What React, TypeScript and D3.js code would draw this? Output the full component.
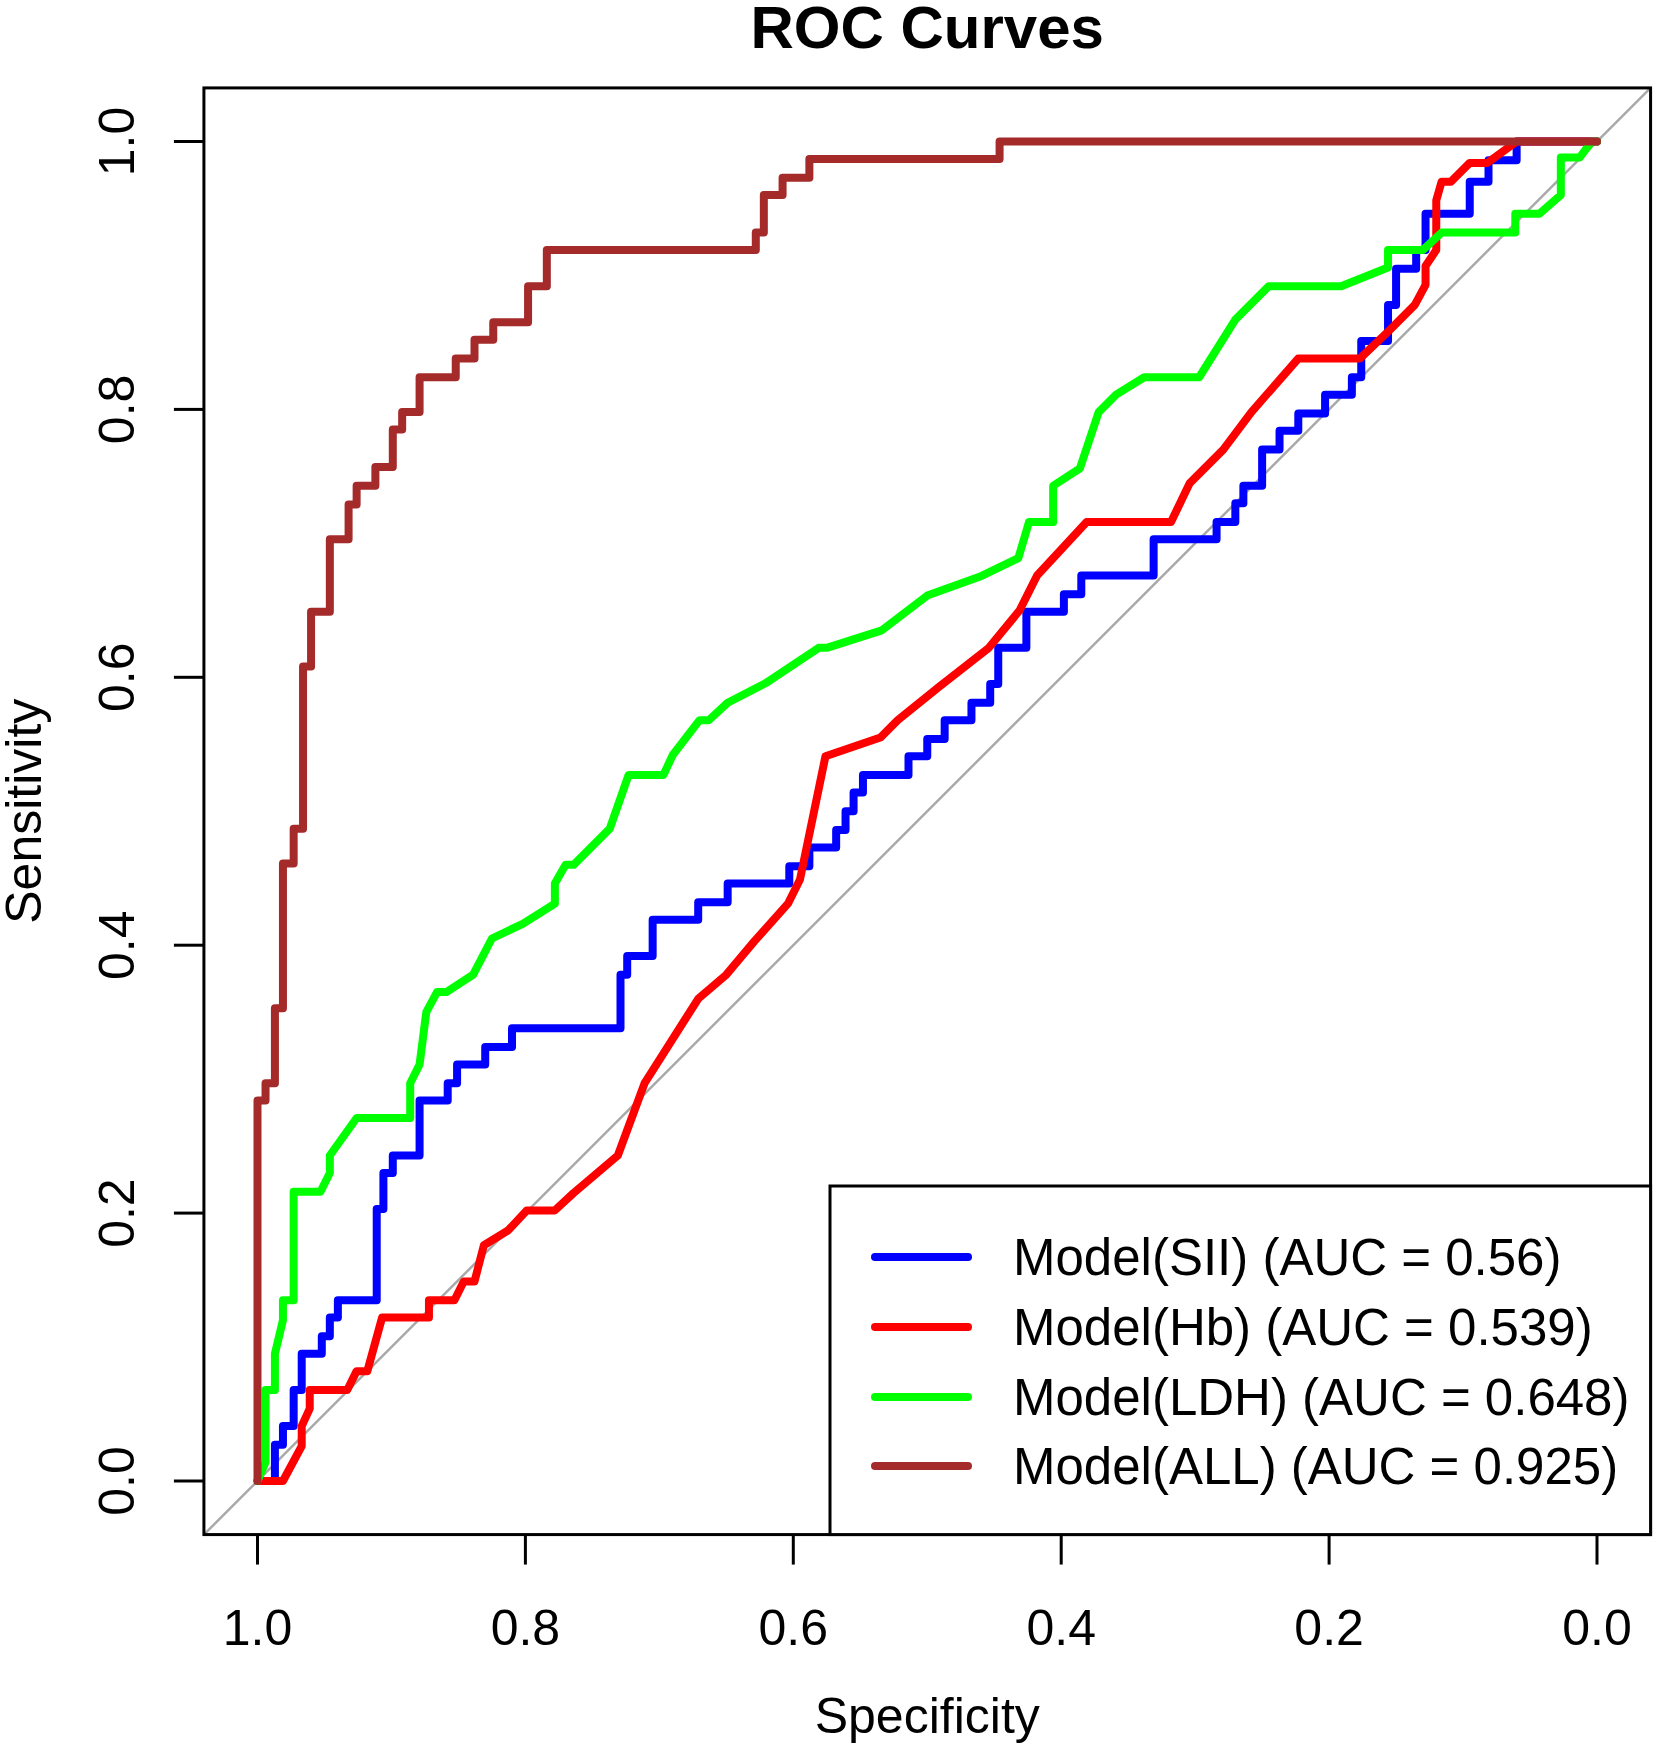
import * as d3 from "d3"

// ROC points, as [specificity, sensitivity]
const siiRoc: [number, number][] = [
  [1, 0], [0.987, 0], [0.987, 0.027], [0.981, 0.027], [0.981, 0.041], [0.973, 0.041],
  [0.973, 0.068], [0.967, 0.068], [0.967, 0.095], [0.952, 0.095], [0.952, 0.108],
  [0.946, 0.108], [0.946, 0.122], [0.94, 0.122], [0.94, 0.135], [0.911, 0.135],
  [0.911, 0.203], [0.906, 0.203], [0.906, 0.23], [0.899, 0.23], [0.899, 0.243],
  [0.879, 0.243], [0.879, 0.284], [0.858, 0.284], [0.858, 0.297], [0.851, 0.297],
  [0.851, 0.311], [0.83, 0.311], [0.83, 0.324], [0.81, 0.324], [0.81, 0.338],
  [0.729, 0.338], [0.729, 0.378], [0.724, 0.378], [0.724, 0.392], [0.705, 0.392],
  [0.705, 0.419], [0.671, 0.419], [0.671, 0.432], [0.649, 0.432], [0.649, 0.446],
  [0.603, 0.446], [0.603, 0.459], [0.588, 0.459], [0.588, 0.473], [0.568, 0.473],
  [0.568, 0.486], [0.561, 0.486], [0.561, 0.5], [0.555, 0.5], [0.555, 0.514],
  [0.548, 0.514], [0.548, 0.527], [0.514, 0.527], [0.514, 0.541], [0.5, 0.541],
  [0.5, 0.554], [0.487, 0.554], [0.487, 0.568], [0.467, 0.568], [0.467, 0.581],
  [0.453, 0.581], [0.453, 0.595], [0.447, 0.595], [0.447, 0.622], [0.426, 0.622],
  [0.426, 0.649], [0.398, 0.649], [0.398, 0.662], [0.385, 0.662], [0.385, 0.676],
  [0.331, 0.676], [0.331, 0.703], [0.284, 0.703], [0.284, 0.716], [0.27, 0.716],
  [0.27, 0.73], [0.264, 0.73], [0.264, 0.743], [0.25, 0.743], [0.25, 0.77],
  [0.237, 0.77], [0.237, 0.784], [0.223, 0.784], [0.223, 0.797], [0.203, 0.797],
  [0.203, 0.811], [0.183, 0.811], [0.183, 0.824], [0.176, 0.824], [0.176, 0.851],
  [0.156, 0.851], [0.156, 0.878], [0.15, 0.878], [0.15, 0.905], [0.135, 0.905],
  [0.135, 0.919], [0.128, 0.919], [0.128, 0.946], [0.095, 0.946], [0.095, 0.97],
  [0.081, 0.97], [0.081, 0.986], [0.06, 0.986], [0.06, 1], [0, 1],
]

const hbRoc: [number, number][] = [
  [1, 0], [0.981, 0], [0.967, 0.026], [0.967, 0.041], [0.961, 0.054], [0.961, 0.068],
  [0.933, 0.068], [0.926, 0.082], [0.918, 0.082], [0.907, 0.122], [0.872, 0.122],
  [0.872, 0.135], [0.853, 0.135], [0.846, 0.149], [0.838, 0.149], [0.831, 0.176],
  [0.813, 0.187], [0.799, 0.202], [0.778, 0.202], [0.764, 0.215], [0.731, 0.243],
  [0.711, 0.297], [0.671, 0.36], [0.65, 0.378], [0.629, 0.403], [0.604, 0.431],
  [0.595, 0.449], [0.576, 0.541], [0.535, 0.555], [0.522, 0.568], [0.491, 0.593],
  [0.454, 0.622], [0.431, 0.65], [0.418, 0.676], [0.381, 0.716], [0.318, 0.716],
  [0.304, 0.745], [0.279, 0.77], [0.258, 0.798], [0.223, 0.838], [0.177, 0.838],
  [0.155, 0.859], [0.136, 0.878], [0.128, 0.893], [0.128, 0.907], [0.12, 0.919],
  [0.12, 0.956], [0.116, 0.97], [0.109, 0.97], [0.095, 0.984], [0.082, 0.984],
  [0.06, 1], [0, 1],
]

const ldhRoc: [number, number][] = [
  [1, 0], [0.994, 0.014], [0.994, 0.068], [0.987, 0.068], [0.987, 0.095], [0.981, 0.12],
  [0.981, 0.135], [0.973, 0.135], [0.973, 0.216], [0.953, 0.216], [0.946, 0.23],
  [0.946, 0.243], [0.926, 0.271], [0.886, 0.271], [0.886, 0.297], [0.879, 0.311],
  [0.874, 0.35], [0.866, 0.365], [0.859, 0.365], [0.839, 0.378], [0.825, 0.405],
  [0.802, 0.416], [0.778, 0.431], [0.778, 0.446], [0.77, 0.46], [0.764, 0.46],
  [0.737, 0.487], [0.723, 0.527], [0.697, 0.527], [0.69, 0.542], [0.67, 0.568],
  [0.663, 0.568], [0.649, 0.581], [0.62, 0.596], [0.581, 0.622], [0.575, 0.622],
  [0.534, 0.635], [0.5, 0.661], [0.461, 0.675], [0.432, 0.689], [0.424, 0.716],
  [0.406, 0.716], [0.406, 0.743], [0.386, 0.756], [0.372, 0.798], [0.359, 0.811],
  [0.338, 0.824], [0.297, 0.824], [0.27, 0.867], [0.245, 0.892], [0.191, 0.892],
  [0.156, 0.906], [0.156, 0.919], [0.13, 0.919], [0.116, 0.932], [0.061, 0.932],
  [0.061, 0.946], [0.043, 0.946], [0.027, 0.96], [0.027, 0.988], [0.013, 0.988],
  [0.004, 1], [0, 1],
]

const allRoc: [number, number][] = [
  [1, 0], [1, 0.284], [0.994, 0.284], [0.994, 0.297], [0.987, 0.297], [0.987, 0.353],
  [0.981, 0.353], [0.981, 0.461], [0.973, 0.461], [0.973, 0.487], [0.966, 0.487],
  [0.966, 0.608], [0.96, 0.608], [0.96, 0.649], [0.946, 0.649], [0.946, 0.703],
  [0.932, 0.703], [0.932, 0.729], [0.926, 0.729], [0.926, 0.743], [0.912, 0.743],
  [0.912, 0.757], [0.899, 0.757], [0.899, 0.785], [0.892, 0.785], [0.892, 0.798],
  [0.879, 0.798], [0.879, 0.824], [0.852, 0.824], [0.852, 0.838], [0.838, 0.838],
  [0.838, 0.852], [0.824, 0.852], [0.824, 0.865], [0.798, 0.865], [0.798, 0.892],
  [0.784, 0.892], [0.784, 0.919], [0.628, 0.919], [0.628, 0.932], [0.622, 0.932],
  [0.622, 0.96], [0.608, 0.96], [0.608, 0.973], [0.588, 0.973], [0.588, 0.987],
  [0.446, 0.987], [0.446, 1], [0, 1],
]

const modelNames = ["Model(SII)", "Model(Hb)", "Model(LDH)", "Model(ALL)"]
const aucValues = ["0.56", "0.539", "0.648", "0.925"]
const modelColors = ["#0000FF", "#FF0000", "#00FF00", "#A52A2A"]
const rocData = [siiRoc, hbRoc, ldhRoc, allRoc]

const specTicks = [1, 0.8, 0.6, 0.4, 0.2, 0]
const sensTicks = [0, 0.2, 0.4, 0.6, 0.8, 1]

const W = 1654
const H = 1748
const font = "'Liberation Sans', Arial, Helvetica, sans-serif"

export default function App() {
  const x = d3.scaleLinear().domain([1, 0]).range([257.5, 1597])
  const y = d3.scaleLinear().domain([0, 1]).range([1481, 141.5])

  // R pads the axes by 4%
  const left = x(1.04)
  const right = x(-0.04)
  const top = y(1.04)
  const bottom = y(-0.04)

  const line = d3
    .line<[number, number]>()
    .x((d) => x(d[0]))
    .y((d) => y(d[1]))

  const legend = { x0: 830, y0: 1186, rowY: [1257, 1327, 1397, 1466] }

  return (
    <svg
      width={W}
      height={H}
      viewBox={`0 0 ${W} ${H}`}
      style={{ position: "absolute", left: 0, top: 0, background: "#fff" }}
      fontFamily={font}
    >
      <rect width={W} height={H} fill="#fff" />

      <text x={(left + right) / 2} y={48} textAnchor="middle" fontSize={60} fontWeight="bold">
        ROC Curves
      </text>

      <defs>
        <clipPath id="plotClip">
          <rect x={left} y={top} width={right - left} height={bottom - top} />
        </clipPath>
      </defs>

      {/* identity line */}
      <line
        clipPath="url(#plotClip)"
        x1={x(1.04)}
        y1={y(-0.04)}
        x2={x(-0.04)}
        y2={y(1.04)}
        stroke="#A9A9A9"
        strokeWidth={2.5}
      />

      {rocData.map((pts, i) => (
        <path
          key={modelNames[i]}
          d={line(pts) ?? ""}
          fill="none"
          stroke={modelColors[i]}
          strokeWidth={8}
          strokeLinejoin="round"
          strokeLinecap="round"
        />
      ))}

      <rect
        x={left}
        y={top}
        width={right - left}
        height={bottom - top}
        fill="none"
        stroke="#000"
        strokeWidth={3}
      />

      {/* x axis */}
      <g>
        {specTicks.map((t) => (
          <g key={t}>
            <line x1={x(t)} x2={x(t)} y1={bottom} y2={bottom + 30} stroke="#000" strokeWidth={3} />
            <text x={x(t)} y={1645} textAnchor="middle" fontSize={50}>
              {t.toFixed(1)}
            </text>
          </g>
        ))}
        <text x={(left + right) / 2} y={1733} textAnchor="middle" fontSize={50}>
          Specificity
        </text>
      </g>

      {/* y axis */}
      <g>
        {sensTicks.map((t) => (
          <g key={t}>
            <line x1={left} x2={left - 30} y1={y(t)} y2={y(t)} stroke="#000" strokeWidth={3} />
            <text
              transform={`translate(134, ${y(t)}) rotate(-90)`}
              textAnchor="middle"
              fontSize={50}
            >
              {t.toFixed(1)}
            </text>
          </g>
        ))}
        <text
          transform={`translate(41, ${(top + bottom) / 2}) rotate(-90)`}
          textAnchor="middle"
          fontSize={50}
        >
          Sensitivity
        </text>
      </g>

      {/* legend */}
      <g>
        <rect
          x={legend.x0}
          y={legend.y0}
          width={right - legend.x0}
          height={bottom - legend.y0}
          fill="#fff"
          stroke="#000"
          strokeWidth={3}
        />
        {modelNames.map((name, i) => (
          <g key={name}>
            <line
              x1={875}
              x2={968}
              y1={legend.rowY[i]}
              y2={legend.rowY[i]}
              stroke={modelColors[i]}
              strokeWidth={8}
              strokeLinecap="round"
            />
            <text x={1013} y={legend.rowY[i]} dy="0.35em" fontSize={51}>
              {`${name} (AUC = ${aucValues[i]})`}
            </text>
          </g>
        ))}
      </g>
    </svg>
  )
}
